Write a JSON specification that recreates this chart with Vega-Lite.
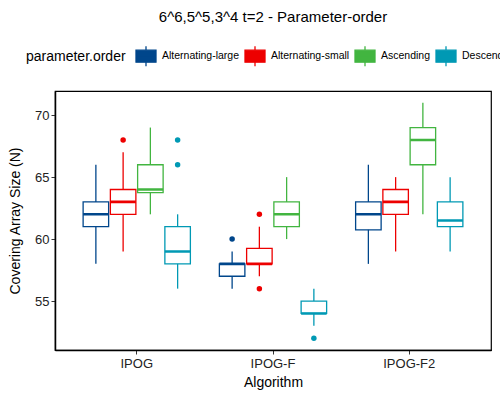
{
  "$schema": "https://vega.github.io/schema/vega-lite/v6.json",
  "description": "Boxplots of covering array size by algorithm and parameter order.",
  "width": 436,
  "height": 259,
  "autosize": {"type": "none"},
  "padding": {"left": 55, "top": 91, "right": 9, "bottom": 50},
  "background": "white",
  "title": {
    "text": "6^6,5^5,3^4 t=2 - Parameter-order",
    "fontSize": 15,
    "fontWeight": "normal",
    "font": "Liberation Sans",
    "color": "black",
    "anchor": "middle",
    "offset": 20
  },
  "datasets": {
    "boxes": [
      {"Algorithm": "IPOG", "order": "Alternating-large", "lower": 58, "q1": 61, "median": 62, "q3": 63, "upper": 66},
      {"Algorithm": "IPOG", "order": "Alternating-small", "lower": 59, "q1": 62, "median": 63, "q3": 64, "upper": 67},
      {"Algorithm": "IPOG", "order": "Ascending", "lower": 62, "q1": 63.75, "median": 64, "q3": 66, "upper": 69},
      {"Algorithm": "IPOG", "order": "Descending", "lower": 56, "q1": 58, "median": 59, "q3": 61, "upper": 62},
      {"Algorithm": "IPOG-F", "order": "Alternating-large", "lower": 56, "q1": 57, "median": 58, "q3": 58, "upper": 59},
      {"Algorithm": "IPOG-F", "order": "Alternating-small", "lower": 57, "q1": 58, "median": 58, "q3": 59.25, "upper": 61},
      {"Algorithm": "IPOG-F", "order": "Ascending", "lower": 60, "q1": 61, "median": 62, "q3": 63, "upper": 65},
      {"Algorithm": "IPOG-F", "order": "Descending", "lower": 53, "q1": 54, "median": 54, "q3": 55, "upper": 56},
      {"Algorithm": "IPOG-F2", "order": "Alternating-large", "lower": 58, "q1": 60.75, "median": 62, "q3": 63, "upper": 66},
      {"Algorithm": "IPOG-F2", "order": "Alternating-small", "lower": 59, "q1": 62, "median": 63, "q3": 64, "upper": 65},
      {"Algorithm": "IPOG-F2", "order": "Ascending", "lower": 62, "q1": 66, "median": 68, "q3": 69, "upper": 71},
      {"Algorithm": "IPOG-F2", "order": "Descending", "lower": 59, "q1": 61, "median": 61.5, "q3": 63, "upper": 65}
    ],
    "outliers": [
      {"Algorithm": "IPOG", "order": "Alternating-small", "size": 68},
      {"Algorithm": "IPOG", "order": "Descending", "size": 66},
      {"Algorithm": "IPOG", "order": "Descending", "size": 68},
      {"Algorithm": "IPOG-F", "order": "Alternating-large", "size": 60},
      {"Algorithm": "IPOG-F", "order": "Alternating-small", "size": 62},
      {"Algorithm": "IPOG-F", "order": "Alternating-small", "size": 56},
      {"Algorithm": "IPOG-F", "order": "Descending", "size": 52}
    ]
  },
  "data": {"name": "boxes"},
  "encoding": {
    "x": {
      "field": "Algorithm",
      "type": "nominal",
      "title": "Algorithm",
      "scale": {"paddingInner": 0, "paddingOuter": 0.1},
      "axis": {"labelAngle": 0}
    },
    "xOffset": {
      "field": "order",
      "type": "nominal",
      "scale": {"paddingInner": 0.064, "paddingOuter": 0.532}
    }
  },
  "layer": [
    {
      "mark": {"type": "rule", "strokeWidth": 1.3},
      "encoding": {
        "y": {
          "field": "lower",
          "type": "quantitative",
          "title": "Covering Array Size (N)",
          "scale": {"domain": [51.05, 71.95], "zero": false, "nice": false},
          "axis": {"values": [55, 60, 65, 70]}
        },
        "y2": {"field": "q1"},
        "color": {
          "field": "order",
          "type": "nominal",
          "title": "parameter.order",
          "scale": {
            "domain": ["Alternating-large", "Alternating-small", "Ascending", "Descending"],
            "range": ["#00468B", "#ED0000", "#42B540", "#0099B4"]
          },
          "legend": {
            "orient": "none",
            "legendX": -29,
            "legendY": -46,
            "direction": "horizontal",
            "titleOrient": "left",
            "titleFontSize": 14,
            "titleFontWeight": "normal",
            "titleColor": "black",
            "titleBaseline": "middle",
            "titlePadding": 9,
            "labelFontSize": 10.5,
            "labelColor": "black",
            "labelOffset": 5,
            "columnPadding": 2,
            "symbolType": "M-1,-0.6L1,-0.6L1,0.6L-1,0.6Z M-1,0L1,0 M0,-0.6L0,-1 M0,0.6L0,1",
            "symbolSize": 400,
            "symbolStrokeWidth": 1.3,
            "symbolFillColor": "white"
          }
        }
      }
    },
    {
      "mark": {"type": "rule", "strokeWidth": 1.3},
      "encoding": {
        "y": {"field": "q3", "type": "quantitative"},
        "y2": {"field": "upper"},
        "color": {"field": "order", "type": "nominal"}
      }
    },
    {
      "mark": {"type": "bar", "filled": false, "strokeWidth": 1.3, "opacity": 1},
      "encoding": {
        "y": {"field": "q1", "type": "quantitative"},
        "y2": {"field": "q3"},
        "color": {"field": "order", "type": "nominal"}
      }
    },
    {
      "mark": {"type": "bar", "filled": false, "strokeWidth": 2.6, "opacity": 1},
      "encoding": {
        "y": {"field": "median", "type": "quantitative"},
        "y2": {"field": "median"},
        "color": {"field": "order", "type": "nominal"}
      }
    },
    {
      "data": {"name": "outliers"},
      "mark": {"type": "point", "filled": true, "size": 30, "opacity": 1},
      "encoding": {
        "y": {"field": "size", "type": "quantitative"},
        "fill": {
          "field": "order",
          "type": "nominal",
          "scale": {
            "domain": ["Alternating-large", "Alternating-small", "Ascending", "Descending"],
            "range": ["#00468B", "#ED0000", "#42B540", "#0099B4"]
          },
          "legend": null
        }
      }
    }
  ],
  "config": {
    "font": "Liberation Sans",
    "view": {"stroke": "black", "strokeWidth": 1.2},
    "axis": {
      "grid": false,
      "domainColor": "black",
      "domainWidth": 1.5,
      "tickColor": "#333333",
      "tickSize": 4,
      "labelFontSize": 13,
      "labelColor": "#222222",
      "titleFontSize": 14,
      "titleFontWeight": "normal",
      "titleColor": "black"
    },
    "axisX": {"labelPadding": 3, "titlePadding": 5},
    "axisY": {"labelPadding": 2, "titlePadding": 12}
  }
}
